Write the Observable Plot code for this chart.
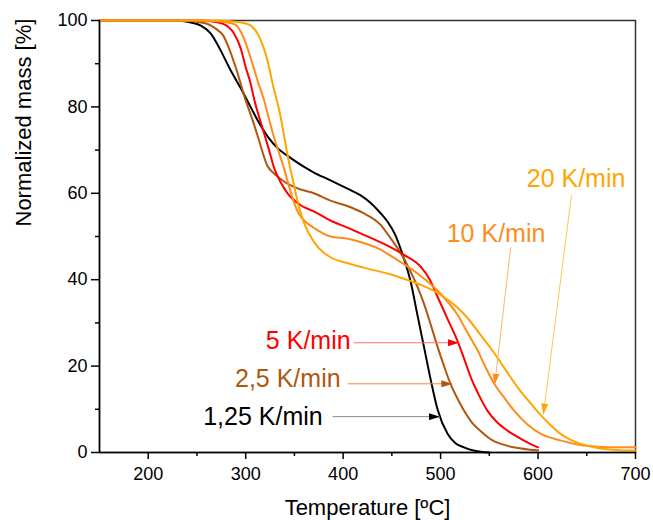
<!DOCTYPE html>
<html><head><meta charset="utf-8">
<script src="https://cdn.jsdelivr.net/npm/d3@7"></script>
<script src="https://cdn.jsdelivr.net/npm/@observablehq/plot@0.6"></script>
<style>body{margin:0;background:#fff;} svg{display:block}</style>
</head><body><div id="chart"></div>
<script>
// Series names (heating rates)
const seriesNames = ["1,25 K/min", "2,5 K/min", "5 K/min", "10 K/min", "20 K/min"];

// [Temperature ºC, normalized mass %]
const rate1_25 = [[150,100],[225,100],[235,99.9],[245,99.5],[254,98.8],[264,97],[274,93.2],[284,88.7],[295,84.3],[305,80],[314,76.2],[323,73],[333,70.4],[346,68.2],[360,66.1],[370,64.8],[387,63],[405,61],[418,59.5],[428,57.8],[438,55.5],[446,53.3],[453,50.6],[461,45.8],[469,39.8],[476,32.1],[483,24.4],[490,16.7],[497,9.9],[507,4.4],[515,2.2],[524,1.2],[535,0.4],[550,0]];
const rate2_5 = [[150,100],[235,100],[250,99.7],[261,99.2],[270,98],[277,96.5],[283,93.5],[290,89],[300,81.5],[307,77],[312,73.5],[316,70.5],[322,66.5],[330,64.4],[339,62.8],[355,61],[370,60],[387,58.3],[405,57],[420,55.5],[438,52.8],[449,49.5],[459,46.2],[469,42],[476,38.5],[483,34.4],[490,29.5],[497,24.4],[504,19.7],[510,16],[517,12.6],[524,9.7],[532,7],[541,5],[552,3],[562,2],[575,1.2],[590,0.7],[600,0.5]];
const rate5 = [[150,100],[250,100],[265,99.8],[277,99.2],[288,97],[295,93.5],[300,89.2],[305,85.5],[309,81.5],[314,77.5],[319,73.8],[324,70],[329,66],[336,62.5],[343,60],[356,57.3],[370,55.8],[387,53.7],[405,52],[420,50.5],[438,48.7],[449,47.5],[462,45.8],[480,42.9],[489,40],[497,36],[507,31],[517,26],[524,21.8],[531,17.4],[540,13],[548,9.7],[558,7],[569,5],[582,3.2],[592,2],[600,1.2]];
const rate10 = [[150,100],[255,100],[272,99.8],[288,99.2],[296,97],[302,93.5],[308,89.2],[313,85.5],[319,81.5],[323,78],[328,73.8],[334,69.5],[339,66],[344,62],[349,58.3],[354,55.5],[360,53.7],[370,52],[387,50],[405,49.5],[421,48.5],[438,47],[449,45.5],[461,43.8],[476,41.5],[493,38.3],[505,35.5],[517,32],[527,28],[538,23.6],[546,19.8],[555,15.9],[565,12.8],[575,9.8],[590,6.3],[603,4.3],[623,2.8],[647,1.6],[665,1.3],[700,1.2]];
const rate20 = [[150,100],[265,100],[285,99.8],[302,99.2],[312,97],[318,94],[324,89.2],[328,85],[332,81.5],[336,77.5],[339,73.8],[342,70],[345.5,66],[349.5,62],[353,58.3],[357,55],[362,52],[368,49.5],[375,47.3],[387,45.2],[405,43.8],[421,42.8],[449,41.2],[470,39.6],[483,38.5],[500,36.5],[517,33.6],[530,30.5],[540,27.5],[551,24.3],[560,21.4],[570,18],[582,14.2],[592,11.5],[603,8.6],[613,6.3],[623,4.3],[633,3],[644,2],[660,1.1],[680,0.6],[700,0.45]];

// Annotation labels and arrows (data coordinates)
const labelX = [379, 397.4, 407.7, 556.9, 639];
const labelY = [8.3, 17, 25.9, 50.5, 63.4];
const arrowFromX = [389.2, 404.6, 410.8, 572, 634.3];
const arrowFromY = [8.3, 15.9, 25.4, 47.5, 59.5];
const arrowToX = [499.4, 512, 518.9, 555.5, 605.5];
const arrowToY = [8.3, 15.9, 25.4, 15.7, 8.8];

// Axis ticks
const xTicks = [200, 300, 400, 500, 600, 700];
const xMinorTicks = [250, 350, 450, 550, 650];
const yTicks = [0, 20, 40, 60, 80, 100];
const yMinorTicks = [10, 30, 50, 70, 90];

// Styles
const lineColors = ["#000000", "#b0560f", "#ff0000", "#ff8c1a", "#ffa500"];
const arrowLineColors = ["#8a8a8a", "#e58a45", "#ff7070", "#ffb570", "#ffc64d"];
const labelAnchors = ["end", "end", "end", "middle", "middle"];

const allSeries = [rate1_25, rate2_5, rate5, rate10, rate20];
const curves = allSeries.flatMap((s, i) => s.map(([t, m]) => ({t, m, series: seriesNames[i]})));
const labels = seriesNames.map((name, i) => ({name, x: labelX[i], y: labelY[i], i}));
const arrows = seriesNames.map((name, i) => ({name, x1: arrowFromX[i], y1: arrowFromY[i], x2: arrowToX[i], y2: arrowToY[i], i}));

const font = "'Liberation Sans', Arial, Helvetica, sans-serif";

const chart = Plot.plot({
  width: 653,
  height: 520,
  marginLeft: 99,
  marginRight: 18,
  marginTop: 20,
  marginBottom: 68,
  style: {fontFamily: font, fontSize: "18px", background: "#fff", color: "#000"},
  x: {domain: [150, 700]},
  y: {domain: [0, 100]},
  color: {domain: seriesNames, range: lineColors},
  marks: [
    Plot.frame({stroke: "#333", strokeWidth: 1.5}),
    Plot.line(curves, {x: "t", y: "m", z: "series", stroke: "series", strokeWidth: 2, curve: "monotone-x"}),
    Plot.link(arrows, {x1: "x1", y1: "y1", x2: "x2", y2: "y2", stroke: d => arrowLineColors[d.i], strokeWidth: 1}),
    ...labels.map(l => Plot.text([l], {x: "x", y: "y", text: "name", fill: lineColors[l.i], fontSize: 25, textAnchor: labelAnchors[l.i], lineAnchor: "middle"})),
    Plot.axisX({ticks: xTicks, tickSize: 7, tickPadding: 8, tickFormat: d => String(d), label: null, strokeWidth: 1.5}),
    Plot.axisX({ticks: xMinorTicks, tickSize: 4, tickFormat: () => "", label: null, strokeWidth: 1.5}),
    Plot.axisY({ticks: yTicks, tickSize: 8, tickPadding: 4, tickFormat: d => String(d), label: null, strokeWidth: 1.5}),
    Plot.axisY({ticks: yMinorTicks, tickSize: 4, tickFormat: () => "", label: null, strokeWidth: 1.5}),
    Plot.ruleX([150], {stroke: "#000", strokeWidth: 1.5}),
    Plot.ruleY([0], {stroke: "#000", strokeWidth: 1.5}),
    Plot.text(["Temperature [ºC]"], {frameAnchor: "bottom", dy: 55, fontSize: 22, lineAnchor: "middle", fill: "#000"}),
    Plot.text(["Normalized mass [%]"], {frameAnchor: "left", dx: -76, dy: -10, rotate: -90, fontSize: 22, lineAnchor: "middle", fill: "#000"})
  ]
});

// Filled arrowheads as SVG markers on the link paths
const ns = "http://www.w3.org/2000/svg";
const defs = document.createElementNS(ns, "defs");
lineColors.forEach((c, i) => {
  const mk = document.createElementNS(ns, "marker");
  mk.setAttribute("id", "ah" + i);
  mk.setAttribute("viewBox", "0 0 11 7");
  mk.setAttribute("refX", "11");
  mk.setAttribute("refY", "3.5");
  mk.setAttribute("markerWidth", "11");
  mk.setAttribute("markerHeight", "7");
  mk.setAttribute("markerUnits", "userSpaceOnUse");
  mk.setAttribute("orient", "auto");
  const p = document.createElementNS(ns, "path");
  p.setAttribute("d", "M0,0L11,3.5L0,7Z");
  p.setAttribute("fill", c);
  p.setAttribute("stroke", "none");
  mk.appendChild(p);
  defs.appendChild(mk);
});
chart.appendChild(defs);
const linkGroup = chart.querySelector('g[aria-label="link"]');
if (linkGroup) {
  linkGroup.querySelectorAll("path, line").forEach((el, i) => el.setAttribute("marker-end", `url(#ah${i})`));
}
document.getElementById("chart").appendChild(chart);
</script>
</body></html>
